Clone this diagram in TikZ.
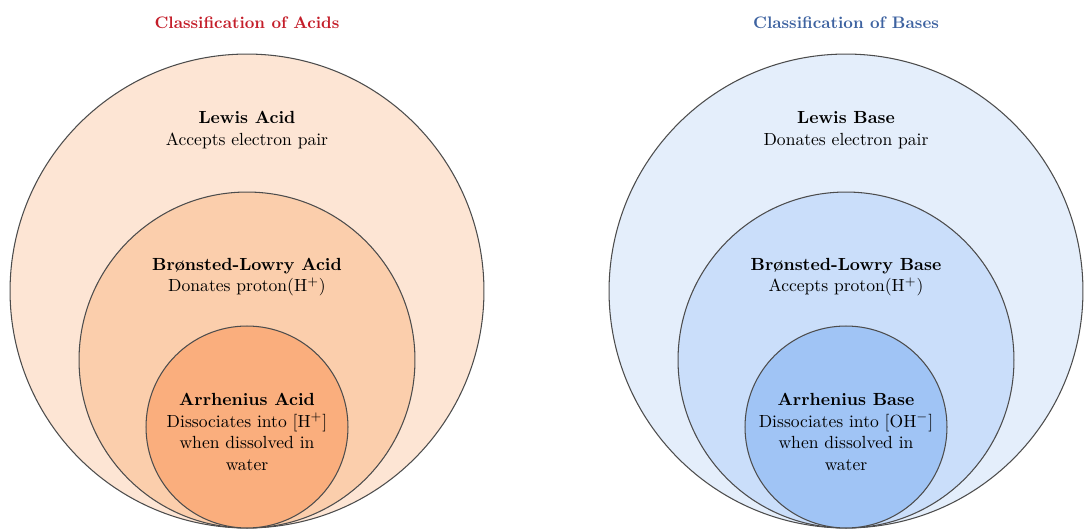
\documentclass[tikz,border=0pt]{standalone}
\usepackage{fontspec}
\usepackage{tikz}
\definecolor{acidT}{HTML}{C41E2A}
\definecolor{acidA}{HTML}{FDE5D4}
\definecolor{acidB}{HTML}{FBCEAC}
\definecolor{acidC}{HTML}{FAAE7D}
\definecolor{baseT}{HTML}{3D62A0}
\definecolor{baseA}{HTML}{E4EEFB}
\definecolor{baseB}{HTML}{CADEFA}
\definecolor{baseC}{HTML}{A0C4F5}
\tikzset{
  ring/.style = {draw=black!70, circle, line width=0.6pt, inner sep=0pt},
  big/.style  = {ring, minimum size=9.48cm},
  mid/.style  = {ring, minimum size=6.72cm},
  core/.style = {ring, minimum size=4.04cm},
  ttl/.style  = {font=\bfseries\fontsize{9.5}{11}\selectfont, inner sep=1pt},
  lbl/.style  = {align=center, inner sep=0pt, font=\fontsize{10}{12.4}\selectfont},
}

\begin{document}
\begin{tikzpicture}[x=0.02cm, y=-0.02cm]
  \useasboundingbox (0,0) rectangle (1086,531);
  % acids
  \node[ttl, text=acidT] (tacid) at (247,23) {Classification of Acids};
  \node[big, fill=acidA]  (lewisA) at (247,291) {};
  \node[mid, fill=acidB]  (bronA)  at (247,360) {};
  \node[core, fill=acidC] (arrhA)  at (247,427) {};
  \node[lbl] (lewisAt) at (247,130) {\textbf{Lewis Acid}\\Accepts electron pair};
  \node[lbl] (bronAt)  at (247,277) {\textbf{Brønsted-Lowry Acid}\\Donates proton(H$^{+}$)};
  \node[lbl] (arrhAt)  at (247,432) {\textbf{Arrhenius Acid}\\Dissociates into [H$^{+}$]\\when dissolved in\\water};
  % bases
  \node[ttl, text=baseT] (tbase) at (846,23) {Classification of Bases};
  \node[big, fill=baseA]  (lewisB) at (846,291) {};
  \node[mid, fill=baseB]  (bronB)  at (846,360) {};
  \node[core, fill=baseC] (arrhB)  at (846,427) {};
  \node[lbl] (lewisBt) at (846,130) {\textbf{Lewis Base}\\Donates electron pair};
  \node[lbl] (bronBt)  at (846,277) {\textbf{Brønsted-Lowry Base}\\Accepts proton(H$^{+}$)};
  \node[lbl] (arrhBt)  at (846,432) {\textbf{Arrhenius Base}\\Dissociates into [OH$^{-}$]\\when dissolved in\\water};
\end{tikzpicture}
\end{document}
